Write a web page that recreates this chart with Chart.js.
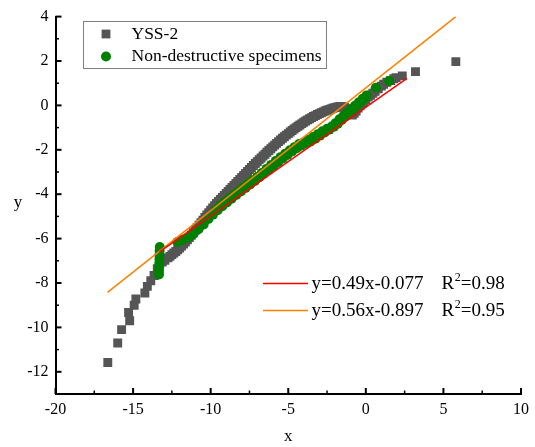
<!DOCTYPE html>
<html>
<head>
<meta charset="utf-8">
<script src="https://cdn.jsdelivr.net/npm/chart.js@4.4.1/dist/chart.umd.min.js"></script>
<style>
  html, body { margin: 0; padding: 0; background: #fff; }
  canvas { display: block; }
</style>
</head>
<body>
<canvas id="myChart" width="535" height="447"></canvas>
<script>
// YSS-2 reference points (grey squares)
const yssX = [
  -16.63, -15.99, -15.74, -15.22, -15.29, -14.93, -14.82, -14.24, -14.08, -13.86,
  -13.65, -13.44, -13.12, -12.95,
  -12.75, -12.625, -12.5, -12.375, -12.25, -12.125, -12.0, -11.875, -11.75, -11.625,
  -11.5, -11.375, -11.25, -11.125, -11.0, -10.875, -10.75, -10.625, -10.5, -10.375,
  -10.25, -10.125, -10.0, -9.875, -9.75, -9.625, -9.5, -9.375, -9.25, -9.125,
  -9.0, -8.875, -8.75, -8.625, -8.5, -8.375, -8.25, -8.125, -8.0, -7.875,
  -7.75, -7.625, -7.5, -7.375, -7.25, -7.125, -7.0, -6.875, -6.75, -6.625,
  -6.5, -6.375, -6.25, -6.125, -6.0, -5.875, -5.75, -5.625, -5.5, -5.375,
  -5.25, -5.125, -5.0, -4.875, -4.75, -4.625, -4.5, -4.375, -4.25, -4.125,
  -4.0, -3.875, -3.75, -3.625, -3.5, -3.375, -3.25, -3.125, -3.0, -2.875,
  -2.75, -2.625, -2.5, -2.375, -2.25, -2.125, -2.0, -1.875, -1.75, -1.625,
  -1.5, -1.375, -1.25, -1.125, -1.0, -0.875, -0.75, -0.625, -0.5, -0.375,
  -0.25, -0.125, 0.0, 0.15, 0.3, 0.45, 0.6, 0.8, 1.0, 1.15,
  1.35, 1.6, 1.8, 1.95, 2.35, 3.2, 5.8
];
const yssY = [
  -11.58, -10.70, -10.10, -9.70, -9.33, -9.00, -8.72, -8.45, -8.15, -7.90,
  -7.66, -7.36, -7.06, -6.98,
  -6.87, -6.80, -6.72, -6.65, -6.58, -6.50, -6.42, -6.33, -6.24, -6.15,
  -6.05, -5.95, -5.85, -5.74, -5.63, -5.51, -5.40, -5.28, -5.17, -5.05,
  -4.94, -4.83, -4.72, -4.62, -4.52, -4.42, -4.33, -4.24, -4.15, -4.06,
  -3.97, -3.88, -3.79, -3.70, -3.61, -3.52, -3.43, -3.34, -3.25, -3.16,
  -3.07, -2.98, -2.89, -2.80, -2.71, -2.62, -2.54, -2.45, -2.37, -2.28,
  -2.20, -2.11, -2.03, -1.95, -1.87, -1.79, -1.71, -1.63, -1.56, -1.48,
  -1.41, -1.34, -1.27, -1.20, -1.13, -1.06, -1.00, -0.94, -0.88, -0.82,
  -0.76, -0.70, -0.65, -0.60, -0.55, -0.50, -0.46, -0.41, -0.37, -0.33,
  -0.29, -0.25, -0.22, -0.19, -0.16, -0.13, -0.10, -0.08, -0.06, -0.05,
  -0.06, -0.09, -0.16, -0.27, -0.40, -0.44, -0.36, -0.25, -0.12, -0.02,
  0.08, 0.16, 0.26, 0.38, 0.46, 0.55, 0.64, 0.75, 0.87, 0.95,
  1.04, 1.12, 1.20, 1.25, 1.33, 1.52, 1.97
];

// non-destructive specimens (green circles)
const specX = [
  -13.33, -13.33, -13.32, -13.31, -13.30, -13.30, -13.29, -13.28,
  -12.15, -11.80, -11.42, -11.10, -10.78, -10.45, -10.14, -9.85, -9.55, -9.25,
  -8.95, -8.65, -8.35, -8.05, -7.75, -7.45, -7.15, -6.85, -6.55, -6.25,
  -5.95, -5.65, -5.35, -5.05, -4.75, -4.45, -4.15, -3.85, -3.55, -3.25,
  -2.95, -2.65, -2.35, -2.05, -1.80, -1.55, -1.30, -1.05, -0.80, -0.55,
  -0.30, -0.10, 0.05, 0.65, 1.50,
  -9.70, -9.40, -9.10, -8.80, -8.50, -8.20, -7.90, -7.60, -7.30, -7.00,
  -6.70, -6.40, -6.10, -5.80, -5.50, -5.20, -4.90, -4.60, -4.30, -4.00,
  -3.70, -3.40, -3.10, -2.80, -2.50, -2.20, -1.95, -1.70, -1.45, -1.20,
  -0.95, -0.70, -0.45, -0.20
];
const specY = [
  -7.62, -7.45, -7.28, -7.10, -6.92, -6.74, -6.56, -6.38,
  -6.15, -6.05, -5.95, -5.78, -5.58, -5.36, -5.12, -4.92, -4.72, -4.54,
  -4.37, -4.20, -4.04, -3.88, -3.72, -3.56, -3.40, -3.24, -3.07, -2.90,
  -2.73, -2.56, -2.39, -2.23, -2.07, -1.93, -1.81, -1.71, -1.62, -1.50,
  -1.36, -1.22, -1.09, -0.96, -0.82, -0.66, -0.50, -0.35, -0.20, -0.03,
  0.15, 0.30, 0.45, 0.80, 1.10,
  -4.72, -4.52, -4.35, -4.18, -4.02, -3.86, -3.70, -3.54, -3.37, -3.21,
  -3.04, -2.86, -2.68, -2.50, -2.33, -2.18, -2.02, -1.88, -1.74, -1.66,
  -1.55, -1.42, -1.30, -1.17, -1.05, -0.95, -0.80, -0.62, -0.48, -0.33,
  -0.16, -0.02, 0.14, 0.30
];

// fitted lines, end points
const fitRedX = [-13.3, 2.65];
const fitRedY = [-6.6, 1.22];
const fitOrangeX = [-16.65, 5.8];
const fitOrangeY = [-8.42, 4.0];

const seriesNames = ['YSS-2', 'Non-destructive specimens'];
const fitEquations = ['y=0.49x-0.077', 'y=0.56x-0.897'];
const fitR2 = ['0.98', '0.95'];

const serif = '"Liberation Serif", "Times New Roman", serif';

const toPoints = (xs, ys) => xs.map((x, i) => ({ x: x, y: ys[i] }));

// ticks pointing into the plot, with minor ticks halfway between
const inwardTicks = {
  id: 'inwardTicks',
  afterDraw(chart) {
    const ctx = chart.ctx;
    const xs = chart.scales.x;
    const ys = chart.scales.y;
    const bottom = chart.chartArea.bottom;
    const left = chart.chartArea.left;
    ctx.save();
    ctx.strokeStyle = '#000';

    const xv = xs.ticks.map(t => t.value);
    for (let i = 0; i < xv.length; i++) {
      const px = xs.getPixelForValue(xv[i]);
      ctx.lineWidth = 2;
      ctx.beginPath();
      ctx.moveTo(px, bottom);
      ctx.lineTo(px, bottom - 6);
      ctx.stroke();
      if (i < xv.length - 1) {
        const mx = xs.getPixelForValue((xv[i] + xv[i + 1]) / 2);
        ctx.lineWidth = 1.5;
        ctx.beginPath();
        ctx.moveTo(mx, bottom);
        ctx.lineTo(mx, bottom - 3.5);
        ctx.stroke();
      }
    }

    const yv = ys.ticks.map(t => t.value);
    for (let i = 0; i < yv.length; i++) {
      const py = ys.getPixelForValue(yv[i]);
      ctx.lineWidth = 2;
      ctx.beginPath();
      ctx.moveTo(left, py);
      ctx.lineTo(left + 6, py);
      ctx.stroke();
      const lo = i === 0 ? ys.min : yv[i - 1];
      if (yv[i] - lo > 1e-9) {
        const my = ys.getPixelForValue(i === 0 ? yv[i] - 1 : (yv[i] + lo) / 2);
        ctx.lineWidth = 1.5;
        ctx.beginPath();
        ctx.moveTo(left, my);
        ctx.lineTo(left + 3.5, my);
        ctx.stroke();
      }
    }
    ctx.restore();
  }
};

// boxed legend for the two series, plain legend for the fit lines, y title
const legends = {
  id: 'legends',
  afterDraw(chart) {
    const ctx = chart.ctx;
    const ds = chart.data.datasets;
    ctx.save();

    // series legend
    ctx.fillStyle = '#fff';
    ctx.fillRect(83.5, 21.5, 243, 47);
    ctx.strokeStyle = '#7f7f7f';
    ctx.lineWidth = 1;
    ctx.strokeRect(83.5, 21.5, 243, 47);

    ctx.fillStyle = ds[0].backgroundColor;
    ctx.fillRect(106 - 4.4, 34 - 4.4, 8.8, 8.8);
    ctx.fillStyle = ds[1].backgroundColor;
    ctx.beginPath();
    ctx.arc(106, 56.5, 5, 0, Math.PI * 2);
    ctx.fill();

    ctx.fillStyle = '#000';
    ctx.font = '17.5px ' + serif;
    ctx.textAlign = 'left';
    ctx.textBaseline = 'middle';
    ctx.fillText(seriesNames[0], 131.5, 34.5);
    ctx.fillText(seriesNames[1], 131.5, 56.5);

    // fit line legend
    const rows = [
      { y: 283.5, color: ds[2].borderColor },
      { y: 310.5, color: ds[3].borderColor }
    ];
    rows.forEach((r, i) => {
      ctx.strokeStyle = r.color;
      ctx.lineWidth = 1.5;
      ctx.beginPath();
      ctx.moveTo(263, r.y);
      ctx.lineTo(308, r.y);
      ctx.stroke();

      ctx.fillStyle = '#000';
      ctx.font = '19px ' + serif;
      ctx.textBaseline = 'middle';
      ctx.fillText(fitEquations[i], 311.5, r.y + 0.5);
      let x = 441.5;
      ctx.fillText('R', x, r.y + 0.5);
      x += ctx.measureText('R').width;
      ctx.font = '12px ' + serif;
      ctx.fillText('2', x + 0.5, r.y - 5.5);
      x += ctx.measureText('2').width + 0.5;
      ctx.font = '19px ' + serif;
      ctx.fillText('=' + fitR2[i], x, r.y + 0.5);
    });

    // y axis title
    ctx.font = '17px ' + serif;
    ctx.textAlign = 'center';
    ctx.fillText('y', 18, 203);
    ctx.restore();
  }
};

const data = {
  datasets: [
    {
      label: seriesNames[0],
      data: toPoints(yssX, yssY),
      pointStyle: 'rect',
      pointRadius: 6.3,
      backgroundColor: '#555555',
      borderColor: '#555555',
      borderWidth: 0,
      order: 4
    },
    {
      label: seriesNames[1],
      data: toPoints(specX, specY),
      pointStyle: 'circle',
      pointRadius: 5,
      backgroundColor: '#008000',
      borderColor: '#008000',
      borderWidth: 0,
      order: 3
    },
    {
      label: 'fit 0.49',
      data: toPoints(fitRedX, fitRedY),
      showLine: true,
      borderColor: '#ff0000',
      borderWidth: 1.5,
      pointRadius: 0,
      order: 1
    },
    {
      label: 'fit 0.56',
      data: toPoints(fitOrangeX, fitOrangeY),
      showLine: true,
      borderColor: '#ff8000',
      borderWidth: 1.5,
      pointRadius: 0,
      order: 2
    }
  ]
};

const tickFont = { family: serif, size: 16 };

const config = {
  type: 'scatter',
  data: data,
  options: {
    responsive: false,
    animation: false,
    layout: { padding: { left: 0, right: 9.5, top: 16, bottom: 0 } },
    plugins: {
      legend: { display: false },
      tooltip: { enabled: false }
    },
    scales: {
      x: {
        type: 'linear',
        min: -20,
        max: 10,
        ticks: { stepSize: 5, padding: 6, color: '#000', font: tickFont, maxRotation: 0 },
        grid: { display: false, drawTicks: false },
        border: { color: '#000', width: 2 },
        title: { display: true, text: 'x', color: '#000', font: { family: serif, size: 17 }, padding: 0 },
        afterFit(scale) { scale.height = 53; }
      },
      y: {
        type: 'linear',
        min: -13,
        max: 4,
        ticks: { stepSize: 2, includeBounds: false, padding: 7, color: '#000', font: tickFont },
        grid: { display: false, drawTicks: false },
        border: { color: '#000', width: 2 },
        afterFit(scale) { scale.width = 55.5; }
      }
    }
  },
  plugins: [inwardTicks, legends]
};

const myChart = new Chart(
  document.getElementById('myChart'),
  config
);
</script>
</body>
</html>
